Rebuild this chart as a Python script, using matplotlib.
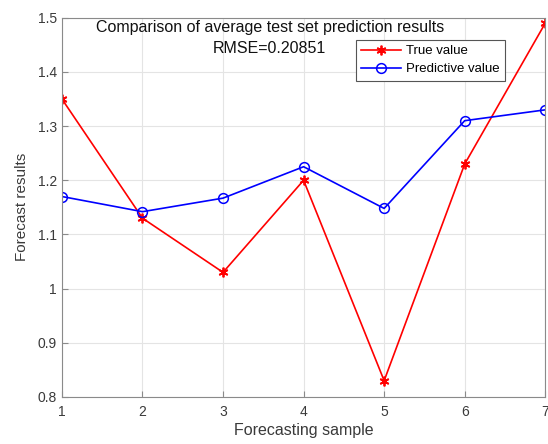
import matplotlib.pyplot as plt

plt.rcParams['font.family'] = ['Liberation Sans', 'DejaVu Sans']

samples = [1, 2, 3, 4, 5, 6, 7]
true_value = [1.35, 1.13, 1.03, 1.20, 0.83, 1.23, 1.49]
predictive_value = [1.17, 1.142, 1.167, 1.225, 1.148, 1.31, 1.33]
rmse = 0.20851

fig = plt.figure(figsize=(5.48, 4.44), dpi=100)
ax = fig.add_axes([0.113, 0.106, 0.882, 0.854])

# matlab style '*' is an asterisk, not a star
ax.plot(samples, true_value, color='red', marker=(6, 2, 0), markersize=7,
        markeredgewidth=1.3, linewidth=1.2, label='True value')
ax.plot(samples, predictive_value, color='blue', marker='o', markersize=7,
        markerfacecolor='none', markeredgewidth=1.1, linewidth=1.2,
        label='Predictive value')

ax.set_xlim(1, 7)
ax.set_ylim(0.8, 1.5)
ax.set_xticks(samples)
ax.set_yticks([0.8, 0.9, 1.0, 1.1, 1.2, 1.3, 1.4, 1.5])
ax.set_yticklabels(['0.8', '0.9', '1', '1.1', '1.2', '1.3', '1.4', '1.5'])
ax.grid(True, color='#e4e4e4', linewidth=0.8)
ax.set_axisbelow(True)

for s in ax.spines.values():
    s.set_color('#8a8a8a')
    s.set_linewidth(0.8)
ax.tick_params(colors='#8a8a8a', labelcolor='#3a3a3a', labelsize=10,
               direction='in', length=4)
ax.tick_params(axis='x', pad=6)

ax.set_xlabel('Forecasting sample', fontsize=11.5, color='#3a3a3a', labelpad=3)
ax.set_ylabel('Forecast results', fontsize=11, color='#3a3a3a', labelpad=6)

# title drawn inside the axes, two lines
ax.text(0.43, 0.975, 'Comparison of average test set prediction results',
        transform=ax.transAxes, ha='center', va='center', fontsize=11.5,
        color='#111111')
ax.text(0.43, 0.92, 'RMSE=%.5f' % rmse,
        transform=ax.transAxes, ha='center', va='center', fontsize=11.5,
        color='#111111')

leg = ax.legend(loc='upper right', bbox_to_anchor=(0.917, 0.942), fontsize=9.5,
                fancybox=False, framealpha=1, borderpad=0.4, labelspacing=0.45,
                handlelength=3.0, handletextpad=0.4, borderaxespad=0)
leg.get_frame().set_edgecolor('#555555')
leg.get_frame().set_linewidth(0.8)

fig.savefig('out.png', dpi=100)
